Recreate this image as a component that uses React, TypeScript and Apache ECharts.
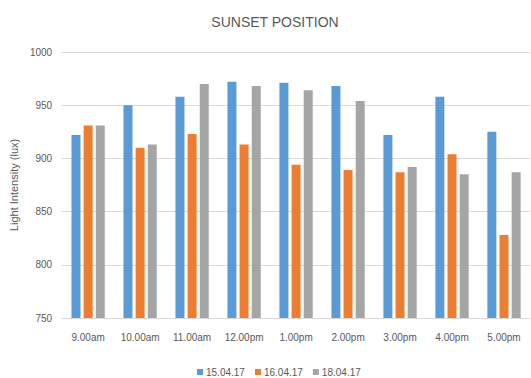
import React, { useEffect, useRef } from "react";
import * as echarts from "echarts";

const categories = ["9.00am", "10.00am", "11.00am", "12.00pm", "1.00pm", "2.00pm", "3.00pm", "4.00pm", "5.00pm"];
const seriesNames = ["15.04.17", "16.04.17", "18.04.17"];
const s1504 = [922, 950, 958, 972, 971, 968, 922, 958, 925];
const s1604 = [931, 910, 923, 913, 894, 889, 887, 904, 828];
const s1804 = [931, 913, 970, 968, 964, 954, 892, 885, 887];
const yTicks = { min: 750, max: 1000, interval: 50 };
const colors = ["#5b9bd5", "#ed7d31", "#a5a5a5"];

export default function App() {
  const ref = useRef<HTMLDivElement>(null);
  useEffect(() => {
    if (!ref.current) return;
    document.body.style.margin = "0";
    const chart = echarts.init(ref.current, null, { renderer: "svg" });
    const data = [s1504, s1604, s1804];
    chart.setOption({
      animation: false,
      backgroundColor: "#ffffff",
      textStyle: { fontFamily: "'Liberation Sans', sans-serif" },
      title: {
        text: "SUNSET POSITION",
        left: 270,
        textAlign: "center",
        top: 10,
        textStyle: { fontSize: 14, fontWeight: "normal", color: "#595959", fontFamily: "'Liberation Sans', sans-serif" },
      },
      legend: {
        top: 362,
        left: 192,
        data: seriesNames,
        icon: "rect",
        itemWidth: 6,
        itemHeight: 6,
        itemGap: 10,
        textStyle: { fontSize: 10, color: "#595959", padding: [0, 0, 0, -2] },
      },
      grid: { left: 57, right: 1, top: 52, bottom: 60, containLabel: false },
      xAxis: {
        type: "category",
        data: categories,
        axisLine: { show: true, lineStyle: { color: "#d9d9d9" } },
        axisTick: { show: false },
        axisLabel: { fontSize: 10, color: "#595959", margin: 14 },
      },
      yAxis: {
        type: "value",
        min: yTicks.min,
        max: yTicks.max,
        interval: yTicks.interval,
        name: "Light Intensity (lux)",
        nameLocation: "middle",
        nameGap: 33,
        nameTextStyle: { fontSize: 11, color: "#595959" },
        axisLine: { show: false },
        axisTick: { show: false },
        axisLabel: { fontSize: 10, color: "#595959", margin: 10, formatter: (v: number) => String(v) },
        splitLine: { lineStyle: { color: "#d9d9d9" } },
      },
      series: seriesNames.map((name, i) => ({
        name,
        type: "bar",
        data: data[i],
        barWidth: 9,
        barGap: "35%",
        itemStyle: { color: colors[i] },
      })),
    });
    return () => chart.dispose();
  }, []);
  return <div ref={ref} style={{ position: "fixed", left: 0, top: 0, width: 531, height: 378 }} />;
}
